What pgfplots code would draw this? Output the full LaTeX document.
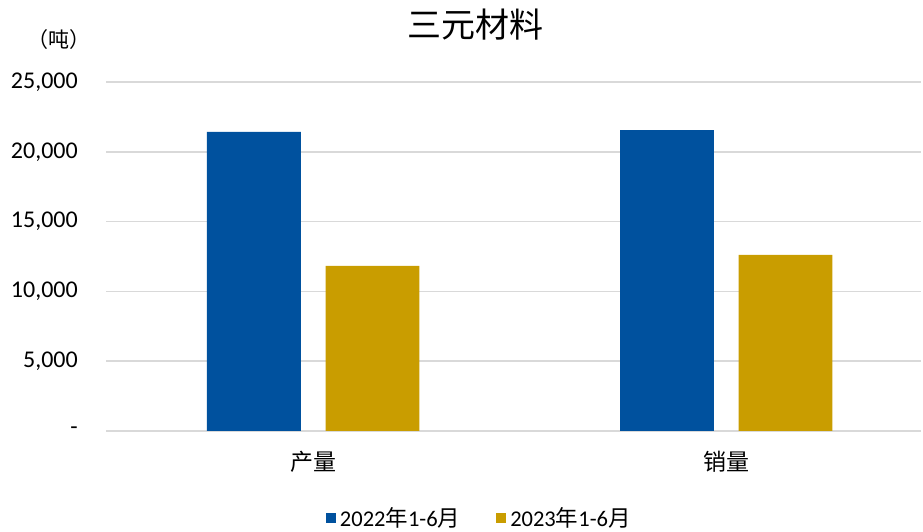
\documentclass[border=0pt]{standalone}
\usepackage{fontspec}
\setmainfont{Carlito}
\newfontfamily\cjk{Noto Sans CJK SC}
\usepackage{pgfplots}
\pgfplotsset{compat=1.18}
\definecolor{cblue}{RGB}{0,81,158}
\definecolor{cgold}{RGB}{201,157,0}
\definecolor{cgrid}{RGB}{217,217,217}
\begin{document}
\begin{tikzpicture}[x=1pt,y=1pt]
\useasboundingbox (0,0) rectangle (923,532);
\begin{axis}[
  at={(106pt,101pt)}, anchor=south west,
  scale only axis, width=815pt, height=349pt,
  xmin=-0.502, xmax=1.471, ymin=0, ymax=25000,
  scaled y ticks=false,
  axis line style={draw=none},
  tick style={draw=none}, major tick length=0pt,
  ybar, bar width=0.227,
  xtick={0,1}, xticklabels={{\cjk 产量},{\cjk 销量}},
  xticklabel style={font=\fontsize{23}{26}\selectfont, anchor=center, inner sep=0pt, yshift=-31pt},
  ytick={0,5000,10000,15000,20000,25000},
  yticklabels={{-\hspace{14pt}},{5,000},{10,000},{15,000},{20,000},{25,000}},
  yticklabel style={font=\fontsize{24}{26}\selectfont, anchor=east, inner sep=0pt, xshift=-28pt},
  ymajorgrids, grid style={cgrid, line width=1.5pt},
  legend columns=2,
  legend style={at={(0.458,-0.249)}, anchor=center, draw=none, fill=none,
    font=\fontsize{22.5}{25}\selectfont, inner sep=0pt,
    /tikz/every even column/.append style={column sep=34pt},
    /tikz/every odd column/.append style={column sep=2pt}},
  legend image code/.code={\fill[#1,draw=none] (0pt,-5pt) rectangle (10pt,5pt);},
]
\addplot[fill=cblue, draw=none, bar shift=-0.144] coordinates {(0,21420) (1,21560)};
\addlegendentry{2022{\cjk 年}1-6{\cjk 月}}
\addplot[fill=cgold, draw=none, bar shift=0.143] coordinates {(0,11820) (1,12610)};
\addlegendentry{2023{\cjk 年}1-6{\cjk 月}}
\end{axis}
\node[font=\cjk\fontsize{34}{40}\selectfont] at (475,507) {三元材料};
\node[font=\cjk\fontsize{21}{24}\selectfont] at (59,492) {（吨）};
\end{tikzpicture}
\end{document}
